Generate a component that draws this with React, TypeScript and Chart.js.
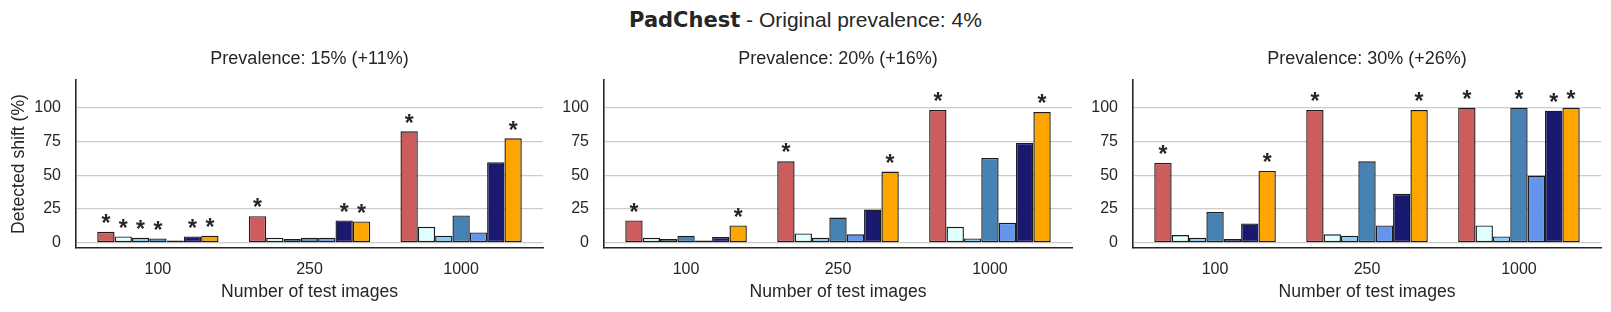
import React, { useEffect, useRef } from 'react';
import { Chart, registerables } from 'chart.js';

Chart.register(...registerables);

// ---------- data ----------
const groupLabels = ['100', '250', '1000'];
const methodColors = ['#CD5C5C', '#E0FFFF', '#87CEFA', '#4682B4', '#6495ED', '#191970', '#FFA500'];
const yTickValues = [0, 25, 50, 75, 100];
const panelTitles = ['Prevalence: 15% (+11%)', 'Prevalence: 20% (+16%)', 'Prevalence: 30% (+26%)'];

// rows = methods (7), columns = number of test images (100, 250, 1000)
const prev15Values = [
  [8.1, 19.7, 82.5],
  [4.7, 3.7, 11.8],
  [3.7, 2.7, 5.2],
  [3.2, 3.7, 20.2],
  [1.7, 3.7, 7.6],
  [4.7, 16.5, 59.6],
  [5.2, 15.8, 77.3],
];
const prev15Stars = [
  [1, 1, 1],
  [1, 0, 0],
  [1, 0, 0],
  [1, 0, 0],
  [0, 0, 0],
  [1, 1, 0],
  [1, 1, 1],
];
const prev20Values = [
  [16.5, 60.3, 98.3],
  [3.7, 6.9, 11.8],
  [2.7, 3.7, 3.2],
  [5.2, 18.7, 62.8],
  [1.7, 6.2, 14.8],
  [4.2, 24.6, 73.9],
  [12.8, 52.7, 96.8],
];
const prev20Stars = [
  [1, 1, 1],
  [0, 0, 0],
  [0, 0, 0],
  [0, 0, 0],
  [0, 0, 0],
  [0, 0, 0],
  [1, 1, 1],
];
const prev30Values = [
  [59.1, 98.3, 100],
  [5.7, 6.2, 12.8],
  [3.7, 5.2, 4.7],
  [22.7, 60.3, 100],
  [2.7, 12.8, 49.8],
  [14.3, 36.2, 97.8],
  [53.2, 98.3, 100],
];
const prev30Stars = [
  [1, 1, 1],
  [0, 0, 0],
  [0, 0, 0],
  [0, 0, 1],
  [0, 0, 0],
  [0, 0, 1],
  [1, 1, 1],
];

// ---------- styling / layout ----------
const FONT = '"Liberation Sans", Arial, Helvetica, sans-serif';
const TEXT = '#262626';
const EDGE = '#1c1c1c';
const GRID = '#cccccc';

const panels = [
  { values: prev15Values, stars: prev15Stars, title: panelTitles[0], canvasLeft: 0, plotLeft: 76, plotRight: 543, yTitle: true },
  { values: prev20Values, stars: prev20Stars, title: panelTitles[1], canvasLeft: 558, plotLeft: 604, plotRight: 1072, yTitle: false },
  { values: prev30Values, stars: prev30Stars, title: panelTitles[2], canvasLeft: 1088, plotLeft: 1133, plotRight: 1601, yTitle: false },
];
const CANVAS_H = 312;
const RIGHT_PAD = 4;

function makeStarPlugin(stars: number[][]) {
  return {
    id: 'stars',
    afterDatasetsDraw(chart: any) {
      const ctx = chart.ctx;
      ctx.save();
      ctx.font = `bold 23px ${FONT}`;
      ctx.fillStyle = TEXT;
      ctx.textAlign = 'center';
      ctx.textBaseline = 'alphabetic';
      chart.data.datasets.forEach((_ds: any, i: number) => {
        const meta = chart.getDatasetMeta(i);
        meta.data.forEach((bar: any, j: number) => {
          if (stars[i] && stars[i][j]) ctx.fillText('*', bar.x, bar.y - 0.8);
        });
      });
      ctx.restore();
    },
  };
}

function Panel({ cfg }: { cfg: typeof panels[number] }) {
  const ref = useRef<HTMLCanvasElement | null>(null);
  const width = cfg.plotRight - cfg.canvasLeft + RIGHT_PAD;
  useEffect(() => {
    if (!ref.current) return;
    const yWidth = cfg.plotLeft - cfg.canvasLeft;
    const chart = new Chart(ref.current, {
      type: 'bar',
      data: {
        datasets: cfg.values.map((row, i) => ({
          data: row.map((v, j) => ({ x: j, y: v })),
          backgroundColor: methodColors[i],
          borderColor: EDGE,
          borderWidth: 1.4,
          borderSkipped: false,
          categoryPercentage: 0.8,
          barPercentage: 1,
        })),
      },
      options: {
        animation: false,
        responsive: false,
        maintainAspectRatio: false,
        devicePixelRatio: 1,
        layout: { padding: { left: 0, right: RIGHT_PAD, top: 0, bottom: 0 } },
        plugins: {
          legend: { display: false },
          tooltip: { enabled: false },
          title: {
            display: true,
            text: cfg.title,
            fullSize: false,
            color: TEXT,
            font: { family: FONT, size: 18, weight: 'normal' },
            padding: { top: 48, bottom: 10.4 },
          },
        },
        scales: {
          x: {
            type: 'linear',
            offset: false,
            min: -0.54,
            max: 2.54,
            afterBuildTicks: (s: any) => {
              s.ticks = groupLabels.map((_l, i) => ({ value: i }));
            },
            afterFit: (s: any) => {
              s.height = CANVAS_H - 248;
            },
            ticks: {
              callback: (v: any) => groupLabels[v] ?? '',
              color: TEXT,
              font: { family: FONT, size: 16 },
              padding: 11.6,
              maxRotation: 0,
              autoSkip: false,
            },
            grid: { display: false, drawTicks: false, offset: false },
            border: { display: true, color: TEXT, width: 1.6 },
            title: {
              display: true,
              text: 'Number of test images',
              color: TEXT,
              font: { family: FONT, size: 17.6 },
              padding: { top: 0, bottom: 9.7 },
            },
          },
          y: {
            type: 'linear',
            min: -3.9,
            max: 120.5,
            afterBuildTicks: (s: any) => {
              s.ticks = yTickValues.map((v) => ({ value: v }));
            },
            afterFit: (s: any) => {
              s.width = yWidth;
            },
            ticks: {
              color: TEXT,
              font: { family: FONT, size: 16 },
              padding: 15,
            },
            grid: { color: GRID, lineWidth: 1.2, drawTicks: false },
            border: { display: true, color: TEXT, width: 1.6 },
            title: {
              display: cfg.yTitle,
              text: 'Detected shift (%)',
              color: TEXT,
              font: { family: FONT, size: 17.6 },
              padding: { top: 8.4, bottom: 0 },
            },
          },
        },
      } as any,
      plugins: [makeStarPlugin(cfg.stars)],
    });
    return () => chart.destroy();
  }, [cfg]);
  return (
    <canvas
      ref={ref}
      width={width}
      height={CANVAS_H}
      style={{ position: 'absolute', left: cfg.canvasLeft, top: 0, width, height: CANVAS_H }}
    />
  );
}

export default function App() {
  return (
    <div
      style={{
        position: 'fixed',
        left: 0,
        top: 0,
        width: 1611,
        height: 312,
        background: '#ffffff',
        overflow: 'hidden',
      }}
    >
      <div
        style={{
          position: 'absolute',
          left: 0,
          top: 9,
          width: 1611,
          textAlign: 'center',
          fontFamily: FONT,
          fontSize: 21,
          lineHeight: '21px',
          color: TEXT,
          whiteSpace: 'nowrap',
        }}
      >
        <span style={{ fontFamily: '"DejaVu Sans", sans-serif', fontWeight: 'bold' }}>PadChest</span>
        <span> - Original prevalence: 4%</span>
      </div>
      {panels.map((p, i) => (
        <Panel key={i} cfg={p} />
      ))}
    </div>
  );
}
